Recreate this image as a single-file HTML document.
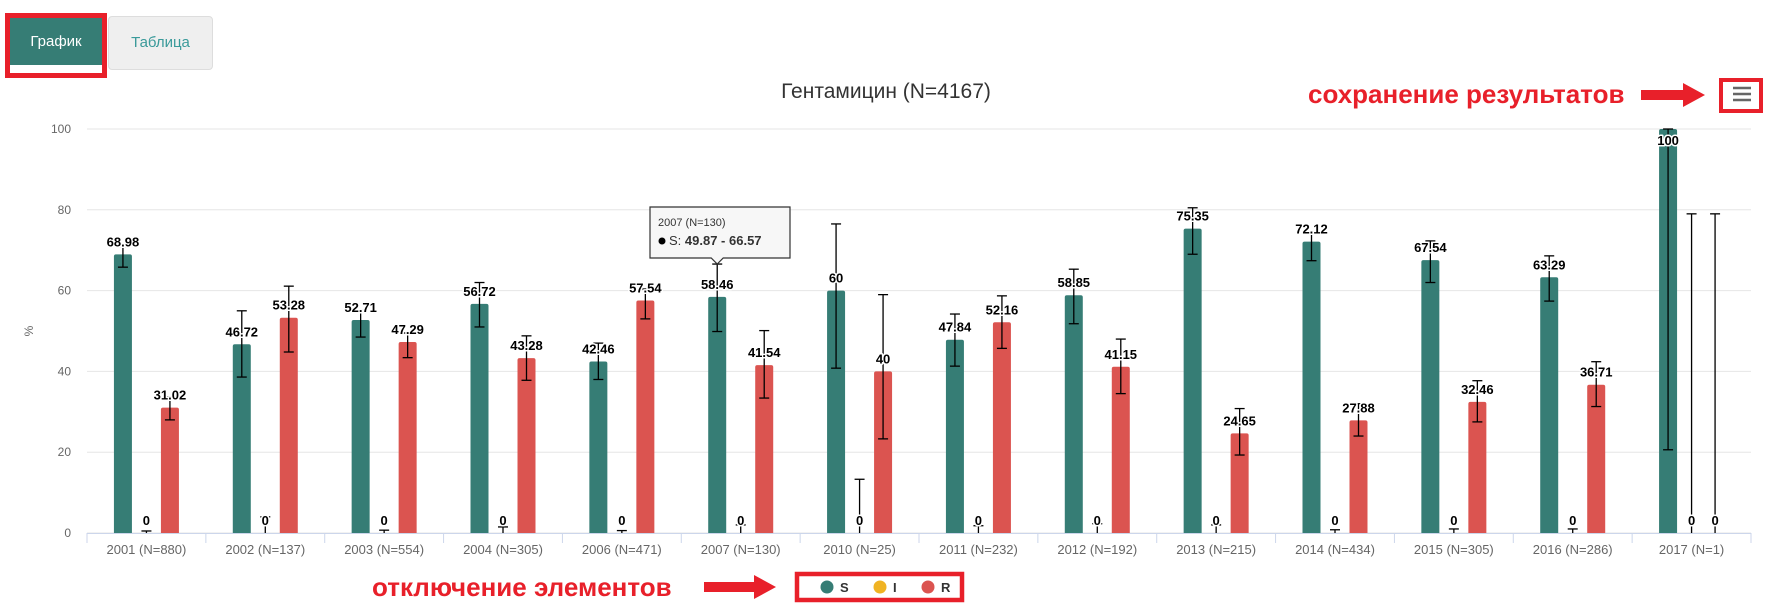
<!DOCTYPE html>
<html><head><meta charset="utf-8">
<style>
body{margin:0;background:#fff;font-family:"Liberation Sans","DejaVu Sans",sans-serif;}
#wrap{position:relative;width:1769px;height:605px;overflow:hidden;}
.tabbox{position:absolute;left:5px;top:13px;width:92px;height:55px;border:5px solid #e8202a;}
.tab1{position:absolute;left:10px;top:18px;width:92px;height:50px;background:#367d75;color:#fff;font-size:15px;text-align:center;line-height:48px;border-bottom:3px solid #fff;box-sizing:border-box;}
.tab2{position:absolute;left:108px;top:16px;width:105px;height:54px;background:#efefef;border:1px solid #ddd;border-radius:4px;color:#3a9a9a;font-size:15px;text-align:center;line-height:52px;box-sizing:border-box;}
.ann{position:absolute;color:#e8202a;font-weight:bold;font-size:26px;white-space:nowrap;}
</style></head><body>
<div id="wrap">
<div class="tab1">График</div>
<div class="tabbox"></div>
<div class="tab2">Таблица</div>
<div class="ann" style="left:1308px;top:79px;">сохранение результатов</div>
<div class="ann" style="left:372px;top:572px;">отключение элементов</div>
<svg id="chart" width="1769" height="605" style="position:absolute;left:0;top:0"></svg>
</div>
<script>
const categories=["2001 (N=880)","2002 (N=137)","2003 (N=554)","2004 (N=305)","2006 (N=471)","2007 (N=130)","2010 (N=25)","2011 (N=232)","2012 (N=192)","2013 (N=215)","2014 (N=434)","2015 (N=305)","2016 (N=286)","2017 (N=1)"];
const sValues=[68.98,46.72,52.71,56.72,42.46,58.46,60,47.84,58.85,75.35,72.12,67.54,63.29,100];
const iValues=[0,0,0,0,0,0,0,0,0,0,0,0,0,0];
const rValues=[31.02,53.28,47.29,43.28,57.54,41.54,40,52.16,41.15,24.65,27.88,32.46,36.71,0];
const sLow=[65.8,38.6,48.5,51,38,49.87,40.8,41.3,51.8,69,67.4,62,57.4,20.6];
const sHigh=[70.9,55,55.2,62,47,66.57,76.5,54.2,65.3,80.5,74.3,72.3,68.6,100];
const iLow=[0,0,0,0,0,0,0,0,0,0,0,0,0,0];
const iHigh=[0.5,4,0.7,1.5,0.6,2,13.3,1.8,2.3,2,0.8,1,1,79];
const rLow=[28,44.8,43.4,37.8,53,33.4,23.3,45.7,34.5,19.3,24,27.5,31.3,0];
const rHigh=[33.7,61.1,49.5,48.8,60.4,50.1,59,58.7,48,30.8,32,37.7,42.4,79];
const yTicks=[0,20,40,60,80,100];

const NS="http://www.w3.org/2000/svg";
const svg=document.getElementById('chart');
const X0=87,X1=1751,Y0=533,Y100=129;
const cw=(X1-X0)/categories.length;
const yS=v=>Y0-(v/100)*(Y0-Y100);
const xC=i=>X0+cw*(i+0.5);
function mk(t,a,p){const e=document.createElementNS(NS,t);for(const k in a)e.setAttribute(k,a[k]);(p||svg).appendChild(e);return e;}

yTicks.forEach(v=>{
  const g=mk('line',{x1:X0,x2:X1,y1:yS(v),y2:yS(v),stroke:'#e6e6e6','stroke-width':1});
  
  
  const t=mk('text',{x:71,y:yS(v)+4,'text-anchor':'end','font-size':12,fill:'#666'});
  t.textContent=v;
  
  
});
const yt=mk('text',{x:33,y:331,'text-anchor':'middle','font-size':12,fill:'#666',transform:'rotate(-90 33 331)'});
yt.textContent='%';



const ax=mk('line',{x1:X0,x2:X1,y1:Y0+0.5,y2:Y0+0.5,stroke:'#ccd6eb','stroke-width':1});


for(let i=0;i<=categories.length;i++){
  const tk=mk('line',{x1:X0+cw*i,x2:X0+cw*i,y1:Y0,y2:Y0+10,stroke:'#ccd6eb'});
  
  
}
categories.forEach((c,i)=>{
  const t=mk('text',{x:xC(i),y:554,'text-anchor':'middle','font-size':13,fill:'#666'});
  t.textContent=c;
  
  
});

const series=[
 {name:'s',vals:sValues,lo:sLow,hi:sHigh,color:'#367d75',off:-23.5},
 {name:'i',vals:iValues,lo:iLow,hi:iHigh,color:'#f0b323',off:0},
 {name:'r',vals:rValues,lo:rLow,hi:rHigh,color:'#db5450',off:23.5}];
const BW=18;
series.forEach(s=>{
  s.vals.forEach((v,i)=>{
    const cx=xC(i)+s.off, top=yS(v);
    if(v>0){
      const b=mk('path',{d:`M${cx-BW/2},${Y0} L${cx-BW/2},${top+2} Q${cx-BW/2},${top} ${cx-BW/2+2},${top} L${cx+BW/2-2},${top} Q${cx+BW/2},${top} ${cx+BW/2},${top+2} L${cx+BW/2},${Y0} Z`,fill:s.color});
      
      
    }
  });
});
series.forEach(s=>{
  s.vals.forEach((v,i)=>{
    const cx=xC(i)+s.off;
    const yl=yS(s.lo[i]), yh=yS(s.hi[i]);
    const g=mk('g',{stroke:'#000','stroke-width':1.3});
    
    
    mk('line',{x1:cx,x2:cx,y1:yl,y2:yh},g);
    mk('line',{x1:cx-5,x2:cx+5,y1:yh,y2:yh},g);
    if(s.lo[i]>0) mk('line',{x1:cx-5,x2:cx+5,y1:yl,y2:yl},g);
  });
});
series.forEach(s=>{
  s.vals.forEach((v,i)=>{
    const cx=xC(i)+s.off;
    let ly=yS(v)-8;
    if(v>=100) ly=yS(v)+16;
    const t=mk('text',{x:cx,y:ly,'text-anchor':'middle','font-size':13,'font-weight':'bold',fill:'#000',stroke:'#fff','stroke-width':3,'paint-order':'stroke','stroke-linejoin':'round'});
    t.textContent=String(v);
    
    
  });
});

const ti=mk('text',{x:886,y:98,'text-anchor':'middle','font-size':21,fill:'#333'});
ti.textContent='Гентамицин (N=4167)';



const tip=mk('g',{});


const tx=xC(5)+series[0].off;
mk('path',{d:`M650,207 L790,207 L790,258 L${tx+6},258 L${tx},264 L${tx-6},258 L650,258 Z`,fill:'#f7f7f7',stroke:'#333','stroke-width':1.2},tip);
const t1=mk('text',{x:658,y:226,'font-size':11,fill:'#333'},tip);t1.textContent='2007 (N=130)';
mk('circle',{cx:662,cy:241,r:3.5,fill:'#000'},tip);
const t2=mk('text',{x:669,y:245,'font-size':13,fill:'#333'},tip);
t2.innerHTML='S: <tspan font-weight="bold">49.87 - 66.57</tspan>';

function arrow(x1,x2,y,name){
  const a=mk('path',{d:`M${x1},${y-5} L${x2-22},${y-5} L${x2-22},${y-12} L${x2},${y} L${x2-22},${y+12} L${x2-22},${y+5} L${x1},${y+5} Z`,fill:'#e8202a'});
  
  
}
arrow(1641,1705,95,'save-arrow');
arrow(704,776,587,'legend-arrow');

const mb=mk('g',{});


mk('rect',{x:1721,y:80,width:40,height:31,fill:'#fff',stroke:'#e8202a','stroke-width':4},mb);
[88,94,100].forEach(y=>mk('line',{x1:1733,x2:1751,y1:y,y2:y,stroke:'#666','stroke-width':2.5},mb));

mk('rect',{x:797,y:574,width:165,height:26,fill:'#fff',stroke:'#e8202a','stroke-width':4.5});
[['S','#367d75',827],['I','#f0b323',880],['R','#db5450',928]].forEach(([n,c,x])=>{
  const g=mk('g',{});
  
  
  mk('circle',{cx:x,cy:587,r:6.5,fill:c},g);
  const t=mk('text',{x:x+13,y:592,'font-size':13,'font-weight':'bold',fill:'#333'},g);
  t.textContent=n;
});
</script>
</body></html>
